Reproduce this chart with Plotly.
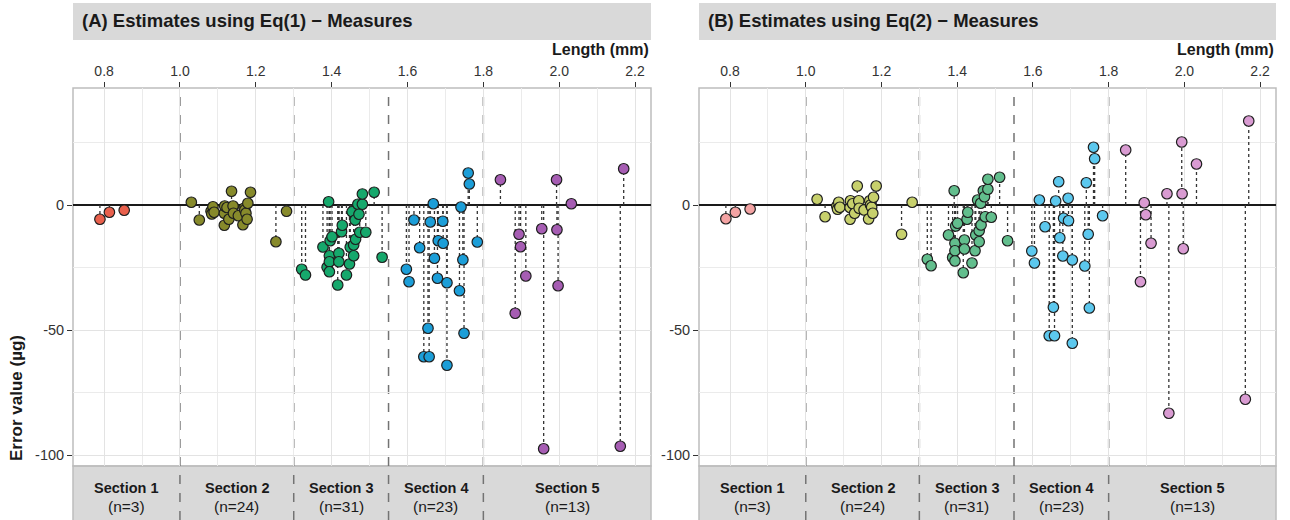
import plotly.graph_objects as go

# ---- data -------------------------------------------------------------
sections = ["Section 1", "Section 2", "Section 3", "Section 4", "Section 5"]
section_n = [3, 24, 31, 23, 13]
section_edges = [1.0, 1.3, 1.55, 1.8]
x_ticks = [0.8, 1.0, 1.2, 1.4, 1.6, 1.8, 2.0, 2.2]
y_ticks = [-100, -50, 0]

len_s1 = [0.789, 0.814, 0.853]
eq1_s1 = [-5.7, -2.9, -2.1]
eq2_s1 = [-5.5, -2.9, -1.6]

len_s2 = [1.030, 1.051, 1.082, 1.084, 1.087, 1.090, 1.117, 1.117, 1.118, 1.124,
          1.129, 1.136, 1.140, 1.141, 1.154, 1.166, 1.169, 1.171, 1.174, 1.177,
          1.179, 1.186, 1.253, 1.281]
eq1_s2 = [1.1, -6.0, -2.5, -3.6, -0.7, -2.9, -8.1, -3.3, -0.4, -1.0,
          -5.7, 5.5, -0.4, -3.3, -4.3, -7.9, -1.3, -2.0, -3.3, -5.7,
          0.7, 5.1, -14.7, -2.5]
eq2_s2 = [2.3, -4.7, -0.5, -1.7, 1.1, -0.9, -5.7, -1.0, 1.7, 0.5,
          -3.3, 7.6, 1.7, -1.3, -2.0, -5.6, 1.7, 0.0, -0.9, -3.3,
          3.1, 7.6, -11.7, 1.1]

len_s3 = [1.321, 1.331, 1.377, 1.388, 1.392, 1.394, 1.394, 1.394, 1.396, 1.401,
          1.416, 1.419, 1.419, 1.426, 1.428, 1.439, 1.447, 1.449, 1.454, 1.458,
          1.458, 1.462, 1.463, 1.469, 1.472, 1.474, 1.481, 1.481, 1.490, 1.512,
          1.533]
eq1_s3 = [-25.7, -28.0, -16.8, -24.9, 1.3, -20.3, -22.7, -26.7, -14.3, -12.7,
          -32.0, -19.3, -22.7, -10.7, -8.1, -28.0, -23.6, -16.9, -2.7, -16.0,
          -20.3, -6.0, -13.7, 0.3, -3.7, -10.9, 0.3, 4.4, -10.9, 5.1,
          -20.9]
eq2_s3 = [-21.7, -24.3, -12.0, -21.0, 5.7, -15.3, -18.3, -22.4, -8.4, -7.3,
          -27.1, -14.0, -17.6, -5.7, -2.9, -23.2, -18.3, -12.0, 2.0, -10.3,
          -14.7, 0.7, -8.0, 5.7, 3.3, -4.7, 6.3, 10.3, -4.9, 11.1,
          -14.3]

len_s4 = [1.597, 1.604, 1.617, 1.632, 1.643, 1.654, 1.657, 1.660, 1.668, 1.671,
          1.679, 1.681, 1.693, 1.694, 1.704, 1.704, 1.737, 1.741, 1.746, 1.749,
          1.760, 1.763, 1.784]
eq1_s4 = [-25.7, -30.7, -6.0, -17.1, -60.7, -49.3, -60.7, -6.8, 0.5, -21.3,
          -29.3, -14.3, -6.5, -15.3, -31.1, -64.1, -34.3, -0.8, -21.9, -51.3,
          12.8, 8.4, -14.8]
eq2_s4 = [-18.4, -23.2, 2.0, -8.7, -52.3, -40.9, -52.3, 1.6, 9.3, -13.1,
          -20.4, -5.3, 2.7, -6.3, -22.0, -55.3, -24.4, 8.9, -11.7, -41.2,
          23.1, 18.5, -4.3]

len_s5 = [1.845, 1.884, 1.894, 1.898, 1.912, 1.954, 1.959, 1.993, 1.994, 1.997,
          2.032, 2.161, 2.170]
eq1_s5 = [10.1, -43.3, -11.7, -16.7, -28.4, -9.5, -97.5, 10.1, -9.9, -32.3,
          0.5, -96.5, 14.5]
eq2_s5 = [22.0, -30.7, 0.9, -3.9, -15.3, 4.5, -83.3, 25.2, 4.5, -17.5,
          16.4, -77.7, 33.6]

lengths = [len_s1, len_s2, len_s3, len_s4, len_s5]
errors_eq1 = [eq1_s1, eq1_s2, eq1_s3, eq1_s4, eq1_s5]
errors_eq2 = [eq2_s1, eq2_s2, eq2_s3, eq2_s4, eq2_s5]

colors_eq1 = ["#E9604C", "#878A2B", "#16A86C", "#1C9ED8", "#A65DB3"]
colors_eq2 = ["#F4A3A3", "#C7D06C", "#62BE8D", "#5CC8EE", "#D99BD2"]

# ---- layout constants ---------------------------------------------------
W, H = 1290, 520
FONT = "Liberation Sans, Arial, sans-serif"
x_range = [0.718, 2.242]
y_range = [-104.4, 46.8]
y_dom = [1 - 466 / H, 1 - 88 / H]
x_doms = [[73 / W, 651 / W], [699 / W, 1276 / W]]
titles = ["(A) Estimates using Eq(1) \u2212 Measures",
          "(B) Estimates using Eq(2) \u2212 Measures"]

fig = go.Figure()
shapes = []
annotations = []

for p, (errs, cols) in enumerate([(errors_eq1, colors_eq1), (errors_eq2, colors_eq2)]):
    xa = "x" if p == 0 else "x2"
    ya = "y" if p == 0 else "y2"
    xname = "xaxis" if p == 0 else "xaxis2"
    yname = "yaxis" if p == 0 else "yaxis2"

    # dotted stems from zero to each estimate
    sx, sy = [], []
    for xs, ys in zip(lengths, errs):
        for xv, yv in zip(xs, ys):
            sx += [xv, xv, None]
            sy += [0, yv, None]
    fig.add_trace(go.Scatter(x=sx, y=sy, mode="lines", xaxis=xa, yaxis=ya,
                             line=dict(color="#333333", width=1.3, dash="dot"),
                             hoverinfo="skip", showlegend=False))
    # points per section
    for k, (xs, ys) in enumerate(zip(lengths, errs)):
        fig.add_trace(go.Scatter(x=xs, y=ys, mode="markers", xaxis=xa, yaxis=ya,
                                 name=sections[k], showlegend=False,
                                 marker=dict(size=10.5, color=cols[k],
                                             line=dict(color="#1e1e1e", width=1.2))))

    fig.layout[xname] = dict(
        domain=x_doms[p], range=x_range, side="top", anchor=ya,
        tickvals=x_ticks, ticktext=[f"{v:.1f}" for v in x_ticks],
        ticks="outside", ticklen=5, tickcolor="#333333", tickwidth=1,
        tickfont=dict(family=FONT, size=14, color="#333333"),
        showgrid=True, gridcolor="#e3e3e3", gridwidth=1.2,
        minor=dict(dtick=0.2, tick0=0.9, showgrid=True, gridcolor="#ebebeb", gridwidth=1),
        zeroline=False, showline=False, fixedrange=True,
    )
    fig.layout[yname] = dict(
        domain=y_dom, range=y_range, anchor=xa,
        tickvals=y_ticks, ticktext=[str(v) for v in y_ticks],
        ticks="outside", ticklen=5, tickcolor="#333333", tickwidth=1,
        tickfont=dict(family=FONT, size=14.5, color="#333333"),
        showgrid=True, gridcolor="#e3e3e3", gridwidth=1.2,
        minor=dict(dtick=50, tick0=25, showgrid=True, gridcolor="#ebebeb", gridwidth=1),
        zeroline=True, zerolinecolor="#1a1a1a", zerolinewidth=1.6,
        showline=False, fixedrange=True,
    )

    xd = xa + " domain"
    # title strip
    shapes.append(dict(type="rect", xref=xd, yref="paper", x0=0, x1=1,
                       y0=1 - 40 / H, y1=1 - 3 / H, fillcolor="#d9d9d9",
                       line=dict(width=0), layer="below"))
    annotations.append(dict(text="<b>" + titles[p] + "</b>", xref=xd, yref="paper",
                            x=0.012, y=1 - 21 / H, xanchor="left", yanchor="middle",
                            showarrow=False, font=dict(family=FONT, size=18.5, color="#1a1a1a")))
    annotations.append(dict(text="<b>Length (mm)</b>", xref=xd, yref="paper",
                            x=1, y=1 - 49 / H, xanchor="right", yanchor="middle",
                            showarrow=False, font=dict(family=FONT, size=16, color="#1a1a1a")))
    # section strip below the panel
    shapes.append(dict(type="rect", xref=xd, yref="paper", x0=0, x1=1,
                       y0=-0.01, y1=y_dom[0], fillcolor="#d9d9d9",
                       line=dict(color="#bdbdbd", width=1.5), layer="below"))
    # panel border
    shapes.append(dict(type="rect", xref=xd, yref="paper", x0=0, x1=1,
                       y0=y_dom[0], y1=y_dom[1], fillcolor="rgba(0,0,0,0)",
                       line=dict(color="#bdbdbd", width=1.5), layer="between"))
    # section boundaries
    for e in section_edges:
        shapes.append(dict(type="line", xref=xa, yref="paper", x0=e, x1=e,
                           y0=0, y1=y_dom[1],
                           line=dict(color="#737373", width=1.5, dash="dash"),
                           layer="between"))
    # section labels
    bounds = [x_range[0]] + section_edges + [x_range[1]]
    for k in range(len(sections)):
        cx = (bounds[k] + bounds[k + 1]) / 2
        annotations.append(dict(text="<b>" + sections[k] + "</b>", xref=xa, yref="paper",
                                x=cx, y=1 - 488 / H, xanchor="center", yanchor="middle",
                                showarrow=False, font=dict(family=FONT, size=14.5, color="#1a1a1a")))
        annotations.append(dict(text=f"(n={section_n[k]})", xref=xa, yref="paper",
                                x=cx, y=1 - 506 / H, xanchor="center", yanchor="middle",
                                showarrow=False, font=dict(family=FONT, size=15.5, color="#1a1a1a")))

annotations.append(dict(text="<b>Error value (\u00b5g)</b>", xref="paper", yref="paper",
                        x=16 / W, y=1 - 398 / H, xanchor="center", yanchor="middle",
                        textangle=-90, showarrow=False,
                        font=dict(family=FONT, size=17, color="#1a1a1a")))

fig.update_layout(
    width=W, height=H, margin=dict(l=0, r=0, t=0, b=0),
    paper_bgcolor="white", plot_bgcolor="white",
    shapes=shapes, annotations=annotations, showlegend=False,
)

fig.write_html("out.html", config={"displayModeBar": False})
